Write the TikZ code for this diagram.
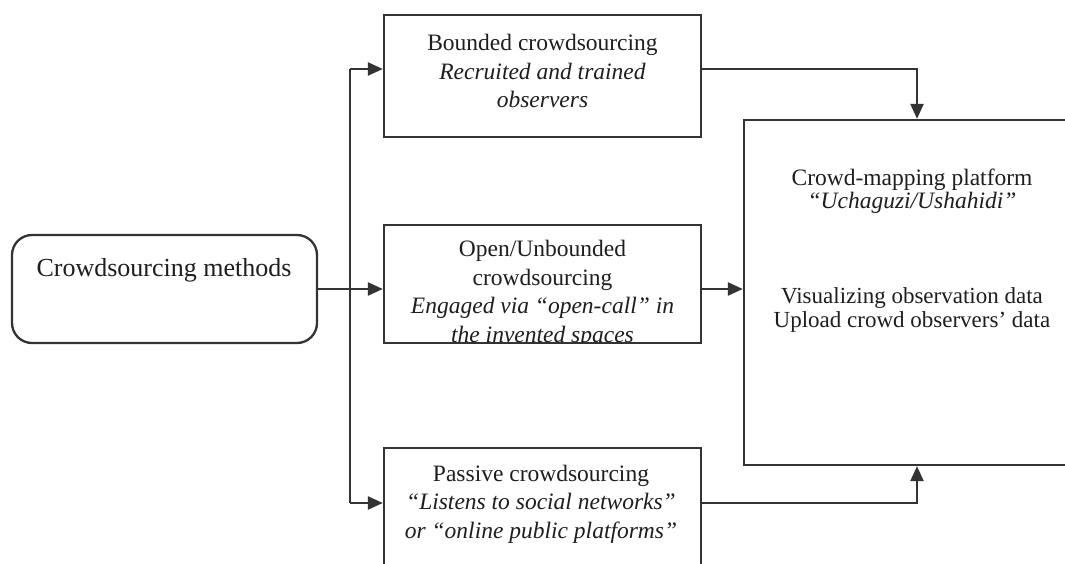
\documentclass[tikz,border=0pt]{standalone}
\usepackage{fontspec}
\setmainfont{Liberation Serif}
\usetikzlibrary{arrows.meta}
\definecolor{lc}{HTML}{333333}
\definecolor{tc}{HTML}{1E1E1E}
\begin{document}
\begin{tikzpicture}[x=1pt,y=-1pt,
  box/.style={draw=lc, line width=2.3pt, inner sep=0pt, fill=white},
  txt/.style={align=center, text=tc, inner sep=0pt, font=\fontsize{23.5}{28.5}\selectfont},
  conn/.style={draw=lc, line width=2.3pt},
  arr/.style={conn, -{Triangle[length=15pt,width=13pt]}}]
\useasboundingbox (0,0) rectangle (1065,564);
\clip (0,0) rectangle (1065,564);
\fill[white] (0,0) rectangle (1065,564);
% boxes
\node[box, rounded corners=20pt, minimum width=305pt, minimum height=108pt] (cm) at (164.5,289) {};
\node[box, minimum width=317pt, minimum height=122pt] (b1) at (542.5,76) {};
\node[box, minimum width=317pt, minimum height=118pt] (b2) at (542.5,284) {};
\node[box, minimum width=317pt, minimum height=152pt] (b3) at (542.5,524) {};
\node[box, minimum width=346pt, minimum height=345pt] (pf) at (917,292.5) {};
% texts
\node[txt, font=\fontsize{26}{30}\selectfont] (t0) at (164,270) {Crowdsourcing methods};
\node[txt] (t1) at (542.5,71) {Bounded crowdsourcing\\\textit{Recruited and trained}\\\textit{observers}};
\begin{scope}
\clip (384,225) rectangle (701,342);
\node[txt] (t2) at (542.5,294) {Open/Unbounded\\crowdsourcing\\\textit{Engaged via “open-call” in}\\\textit{the invented spaces}};
\end{scope}
\node[box, fill=none, minimum width=317pt, minimum height=118pt] at (542.5,284) {};
\node[txt] (t3) at (541,504) {Passive crowdsourcing\\\textit{“Listens to social networks”}\\\textit{or “online public platforms”}};
\node[txt, font=\fontsize{23.5}{23}\selectfont] (t4) at (912,191) {Crowd-mapping platform\\\textit{“Uchaguzi/Ushahidi”}};
\node[txt, font=\fontsize{23}{23.5}\selectfont] (t5) at (912,310) {Visualizing observation data\\Upload crowd observers’ data};
% connectors
\coordinate (tt) at (350,69);
\coordinate (tb) at (350,503);
\draw[conn] (tt) -- (tb);
\draw[arr] (cm.east) -- (b2.west |- cm.east);
\draw[arr] (tt) -- (tt -| b1.west);
\draw[arr] (tb) -- (tb -| b3.west);
\draw[arr] (b1.east |- tt) -| (pf.north);
\draw[arr] (b2.east |- cm.east) -- (pf.west |- cm.east);
\draw[arr] (b3.east |- tb) -| (pf.south);
\end{tikzpicture}
\end{document}
